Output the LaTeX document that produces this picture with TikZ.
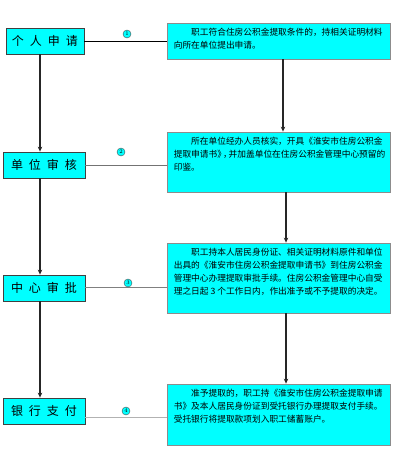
\documentclass[tikz,border=0pt]{standalone}
\usepackage{fontspec}
\newfontfamily\cjk{Noto Sans CJK SC}
\usetikzlibrary{arrows.meta}
\definecolor{boxcyan}{HTML}{00FFFF}
\tikzset{
  leftbox/.style={draw=black!75, line width=0.8pt, fill=boxcyan, minimum width=82pt, minimum height=26pt, inner sep=0pt, font=\cjk\fontsize{12}{14}\selectfont},
  rightbox/.style={draw=black!45, line width=0.8pt, fill=boxcyan, minimum width=223pt, inner sep=0pt},
  desc/.style={anchor=north west, inner sep=0pt, align=left, font=\cjk\fontsize{8.7}{13}\selectfont},
  flow/.style={line width=1.1pt, black!85, -{Stealth[length=5pt,width=4.5pt]}},
  link/.style={line width=0.8pt},
  num/.style={circle, draw=black!70, fill=boxcyan, line width=0.4pt, minimum size=8pt, inner sep=0pt, font=\fontsize{5.5}{5.5}\selectfont}
}
\newcommand{\gp}{\hspace{6pt}}
\begin{document}
\begin{tikzpicture}[x=1pt,y=-1pt]
\useasboundingbox[fill=white] (0,0) rectangle (400,453);
% left boxes
\node[leftbox, minimum width=78pt] (l1) at (45,41) {个\gp 人\gp 申\gp 请};
\node[leftbox] (l2) at (44,165) {单\gp 位\gp 审\gp 核};
\node[leftbox] (l3) at (44,288) {中\gp 心\gp 审\gp 批};
\node[leftbox] (l4) at (44,411) {银\gp 行\gp 支\gp 付};
% right boxes
\node[rightbox, minimum height=36pt] (r1) at (278.5,41) {};
\node[rightbox, minimum height=60pt] (r2) at (278.5,162) {};
\node[rightbox, minimum height=70pt] (r3) at (278.5,278) {};
\node[rightbox, minimum height=61pt] (r4) at (278.5,414.5) {};
% texts
\node[desc] (t1) at ([xshift=7pt,yshift=-5pt]r1.north west) {\hspace*{2em}职工符合住房公积金提取条件的，持相关证明材料\\向所在单位提出申请。};
\node[desc] (t2) at ([xshift=7pt,yshift=-5pt]r2.north west) {\hspace*{2em}所在单位经办人员核实，开具《淮安市住房公积金\\提取申请书》\kern-3pt，\kern-3pt 并加盖单位在住房公积金管理中心预留的\\印鉴。};
\node[desc] (t3) at ([xshift=7pt,yshift=-5pt]r3.north west) {\hspace*{2em}职工持本人居民身份证、相关证明材料原件和单位\\出具的《淮安市住房公积金提取申请书》到住房公积金\\管理中心办理提取审批手续。住房公积金管理中心自受\\理之日起 3 个工作日内，作出准予或不予提取的决定。};
\node[desc] (t4) at ([xshift=7pt,yshift=-5pt]r4.north west) {\hspace*{2em}准予提取的，职工持《淮安市住房公积金提取申请\\书》及本人居民身份证到受托银行办理提取支付手续。\\受托银行将提取款项划入职工储蓄账户。};
% left flow
\draw[flow] ([xshift=-5pt]l1.south) -- ([xshift=-4pt]l2.north);
\draw[flow] ([xshift=-4pt]l2.south) -- ([xshift=-4pt]l3.north);
\draw[flow] ([xshift=-4pt]l3.south) -- ([xshift=-4pt]l4.north);
% right flow
\draw[flow] ([xshift=4.5pt]r1.south) -- ([xshift=4.5pt]r2.north);
\draw[flow] ([xshift=7.5pt]r2.south) -- ([xshift=7.5pt]r3.north);
\draw[flow] ([xshift=7.5pt]r3.south) -- ([xshift=7.5pt]r4.north);
% links
\draw[link, black] (l1.east) -- (r1.west);
\draw[link, black!55] (l2.east) -- (l2.east -| r2.west);
\draw[link, black!50] ([yshift=1pt]l3.east) -- ([yshift=1pt]l3.east -| r3.west);
\draw[link, black!30] ([yshift=-6pt]l4.east) -- ([yshift=-6pt]l4.east -| r4.west);
% numbers
\node[num] (n1) at (127,34) {1};
\node[num] (n2) at (121,152) {2};
\node[num] (n3) at (128,283) {3};
\node[num] (n4) at (126,411) {4};
\end{tikzpicture}
\end{document}
